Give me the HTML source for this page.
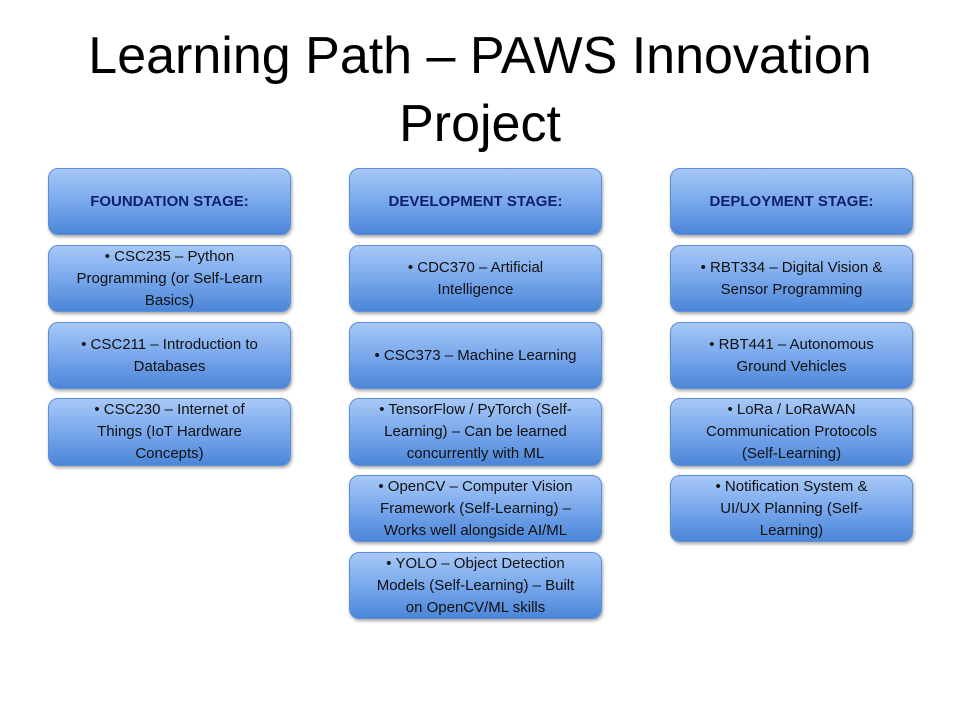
<!DOCTYPE html>
<html><head><style>
body{margin:0;width:960px;height:720px;background:#fff;position:relative;overflow:hidden;font-family:"Liberation Sans",sans-serif}
.t{position:absolute;left:0;width:960px;top:22px;text-align:center;font-size:52px;line-height:68px;color:#000}
.b{position:absolute;box-sizing:border-box;border-radius:10px;background:linear-gradient(#a7c8f7,#79a8ec 50%,#4c86d8);border:1px solid #5b8fd6;box-shadow:1px 2px 3px rgba(0,0,0,.35);display:flex;align-items:center;justify-content:center;text-align:center;font-size:15px;line-height:22px;color:#111;padding:0 4px;white-space:nowrap}
.h{font-weight:bold;color:#10206a;font-size:15px}
</style></head><body>
<div class="t">Learning Path – PAWS Innovation<br>Project</div>

<div class="b h" style="left:48px;top:168px;width:243px;height:67px">FOUNDATION STAGE:</div>
<div class="b" style="left:48px;top:245px;width:243px;height:67px"><span>• CSC235 – Python<br>Programming (or Self-Learn<br>Basics)</span></div>
<div class="b" style="left:48px;top:322px;width:243px;height:67px"><span>• CSC211 – Introduction to<br>Databases</span></div>
<div class="b" style="left:48px;top:398px;width:243px;height:68px"><span>• CSC230 – Internet of<br>Things (IoT Hardware<br>Concepts)</span></div>

<div class="b h" style="left:349px;top:168px;width:253px;height:67px">DEVELOPMENT STAGE:</div>
<div class="b" style="left:349px;top:245px;width:253px;height:67px"><span>• CDC370 – Artificial<br>Intelligence</span></div>
<div class="b" style="left:349px;top:322px;width:253px;height:67px">• CSC373 – Machine Learning</div>
<div class="b" style="left:349px;top:398px;width:253px;height:68px"><span>• TensorFlow / PyTorch (Self-<br>Learning) – Can be learned<br>concurrently with ML</span></div>
<div class="b" style="left:349px;top:475px;width:253px;height:67px"><span>• OpenCV – Computer Vision<br>Framework (Self-Learning) –<br>Works well alongside AI/ML</span></div>
<div class="b" style="left:349px;top:552px;width:253px;height:67px"><span>• YOLO – Object Detection<br>Models (Self-Learning) – Built<br>on OpenCV/ML skills</span></div>

<div class="b h" style="left:670px;top:168px;width:243px;height:67px">DEPLOYMENT STAGE:</div>
<div class="b" style="left:670px;top:245px;width:243px;height:67px"><span>• RBT334 – Digital Vision &amp;<br>Sensor Programming</span></div>
<div class="b" style="left:670px;top:322px;width:243px;height:67px"><span>• RBT441 – Autonomous<br>Ground Vehicles</span></div>
<div class="b" style="left:670px;top:398px;width:243px;height:68px"><span>• LoRa / LoRaWAN<br>Communication Protocols<br>(Self-Learning)</span></div>
<div class="b" style="left:670px;top:475px;width:243px;height:67px"><span>• Notification System &amp;<br>UI/UX Planning (Self-<br>Learning)</span></div>
</body></html>
